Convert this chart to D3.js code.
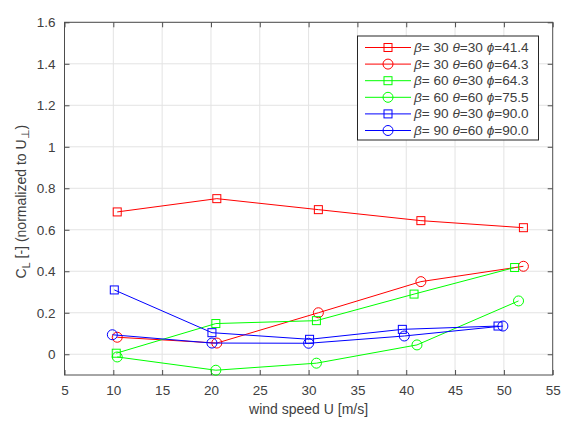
<!DOCTYPE html>
<html><head><meta charset="utf-8">
<script src="https://cdn.jsdelivr.net/npm/d3@7"></script>
<style>body{margin:0;background:#fff}svg{display:block}</style>
</head><body>
<script>
const xTicks = [5,10,15,20,25,30,35,40,45,50,55];
const yTicks = [0,0.2,0.4,0.6,0.8,1,1.2,1.4,1.6];
const legendBeta = ["30","30","60","60","90","90"];
const legendTheta = ["30","60","30","60","30","60"];
const legendPhi = ["41.4","64.3","64.3","75.5","90.0","90.0"];
const seriesColors = ["#ff0000","#ff0000","#00ff00","#00ff00","#0000ff","#0000ff"];
const seriesMarkers = ["square","circle","square","circle","square","circle"];
const xR30 = [10.4,20.6,31.0,41.5,52.0];
const yR30 = [0.686,0.750,0.697,0.644,0.610];
const xR60 = [10.4,20.6,31.0,41.5,52.0];
const yR60 = [0.082,0.054,0.200,0.350,0.424];
const xG30 = [10.3,20.5,30.8,40.8,51.1];
const yG30 = [0.005,0.148,0.162,0.290,0.418];
const xG60 = [10.4,20.5,30.8,41.1,51.5];
const yG60 = [-0.013,-0.077,-0.043,0.045,0.257];
const xB30 = [10.1,20.1,30.1,39.6,49.4];
const yB30 = [0.310,0.104,0.072,0.120,0.136];
const xB60 = [9.9,20.1,30.0,39.8,49.9];
const yB60 = [0.094,0.054,0.053,0.088,0.136];
const seriesX = [xR30,xR60,xG30,xG60,xB30,xB60];
const seriesY = [yR30,yR60,yG30,yG60,yB30,yB60];

const W=570,H=421;
const L=64.5,R=552.7,T=22.3,B=375;
const font="'Liberation Sans', Arial, sans-serif";
const axCol="#4d4d4d", txtCol="#404040";
const svg=d3.select("body").append("svg").attr("width",W).attr("height",H).style("font-family",font);
const x=d3.scaleLinear().domain([5,55]).range([L,R]);
const y=d3.scaleLinear().domain([-0.1,1.6]).range([B,T]);

// grid
const g=svg.append("g");
g.selectAll(".gx").data(xTicks.slice(1,-1)).join("line").attr("x1",d=>x(d)).attr("x2",d=>x(d)).attr("y1",T).attr("y2",B).attr("stroke","#e3e3e3").attr("stroke-width",1);
g.selectAll(".gy").data(yTicks).join("line").attr("y1",d=>y(d)).attr("y2",d=>y(d)).attr("x1",L).attr("x2",R).attr("stroke","#e3e3e3").attr("stroke-width",1);

// axes
const xa=d3.axisBottom(x).tickValues(xTicks).tickSize(-5).tickPadding(10).tickFormat(d3.format("d"));
const xg=svg.append("g").attr("transform",`translate(0,${B})`).call(xa);
const xt=d3.axisTop(x).tickValues(xTicks).tickSize(-5).tickFormat("");
const xtg=svg.append("g").attr("transform",`translate(0,${T})`).call(xt);
const ya=d3.axisLeft(y).tickValues(yTicks).tickSize(-5).tickPadding(9).tickFormat(d=>d3.format("~g")(d));
const yg=svg.append("g").attr("transform",`translate(${L},0)`).call(ya);
const yr=d3.axisRight(y).tickValues(yTicks).tickSize(-5).tickFormat("");
const yrg=svg.append("g").attr("transform",`translate(${R},0)`).call(yr);
[xg,xtg,yg,yrg].forEach(a=>{
  a.select(".domain").remove();
  a.selectAll(".tick line").attr("stroke",axCol);
  a.selectAll("text").attr("fill",txtCol).style("font-size","13.5px").style("font-family",font);
});
svg.append("rect").attr("x",L).attr("y",T).attr("width",R-L).attr("height",B-T).attr("fill","none").attr("stroke",axCol).attr("stroke-width",1);

// axis labels
svg.append("text").attr("x",(L+R)/2).attr("y",414).attr("text-anchor","middle").attr("fill",txtCol).style("font-size","14px").text("wind speed U [m/s]");
const yl=svg.append("text").attr("transform",`translate(26,${(T+B)/2+3}) rotate(-90)`).attr("text-anchor","middle").attr("fill",txtCol).style("font-size","14px");
yl.append("tspan").text("C");
yl.append("tspan").attr("dy",4).style("font-size","11px").text("L");
yl.append("tspan").attr("dy",-4).text(" [-] (normalized to U");
yl.append("tspan").attr("dy",3).style("font-size","11px").text("⊥");
yl.append("tspan").attr("dy",-3).text(")");

// series
function marker(sel,type,col){
  if(type==="square"){
    sel.append("rect").attr("x",-4).attr("y",-4).attr("width",8).attr("height",8).attr("fill","none").attr("stroke",col).attr("stroke-width",1);
  } else {
    sel.append("circle").attr("r",5).attr("fill","none").attr("stroke",col).attr("stroke-width",1);
  }
}
const line=d3.line().x(d=>x(d[0])).y(d=>y(d[1]));
seriesX.forEach((xs,i)=>{
  const pts=xs.map((v,j)=>[v,seriesY[i][j]]);
  const sg=svg.append("g");
  sg.append("path").attr("d",line(pts)).attr("fill","none").attr("stroke",seriesColors[i]).attr("stroke-width",1);
  pts.forEach(p=>{
    const m=sg.append("g").attr("transform",`translate(${x(p[0])},${y(p[1])})`);
    marker(m,seriesMarkers[i],seriesColors[i]);
  });
});

// legend
const lg=svg.append("g");
lg.append("rect").attr("x",357.5).attr("y",36).attr("width",181).attr("height",104).attr("fill","#fff").attr("stroke","#262626").attr("stroke-width",1);
legendBeta.forEach((b,i)=>{
  const ry=47.5+i*16.6;
  lg.append("line").attr("x1",365).attr("x2",411).attr("y1",ry).attr("y2",ry).attr("stroke",seriesColors[i]).attr("stroke-width",1);
  const m=lg.append("g").attr("transform",`translate(388,${ry})`);
  marker(m,seriesMarkers[i],seriesColors[i]);
  const t=lg.append("text").attr("x",414).attr("y",ry+4.5).attr("fill",txtCol).style("font-size","13.6px");
  t.append("tspan").style("font-style","italic").text("β");
  t.append("tspan").text("= "+b+" ");
  t.append("tspan").style("font-style","italic").text("θ");
  t.append("tspan").text("="+legendTheta[i]+" ");
  t.append("tspan").style("font-style","italic").text("ϕ");
  t.append("tspan").text("="+legendPhi[i]);
});
</script>
</body></html>
